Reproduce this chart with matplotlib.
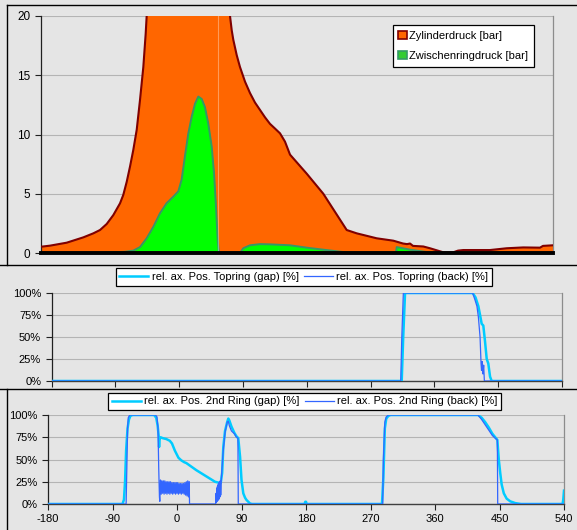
import matplotlib
matplotlib.use("Agg")
import matplotlib.pyplot as plt
from matplotlib.lines import Line2D
from matplotlib.patches import Patch
from matplotlib.ticker import FuncFormatter

plt.rcParams['font.family'] = ['Liberation Sans', 'DejaVu Sans']

# ---------------- data ----------------
# top panel: crank angle [deg] vs pressure [bar]
cyl_x = [-180, -167.3, -143.9, -120.5, -106.4, -97.0, -87.6, -78.3, -68.9, -64.3, -59.5,
         -54.8, -50.2, -45.4, -40.8, -36.1, -32.8, -31.4,
         -26.7, -12.7, 22.5, 43.6, 64.7, 78.75, 85.8, 88.2, 90.4, 95.2, 99.8, 106.9,
         113.9, 120.9, 128.0, 135.0, 142.0, 149.1, 156.1, 163.1, 170.2, 193.6, 217.0,
         249.9, 263.9, 292.1, 315.4, 329.1, 334.7, 338.9, 343.1, 357.6, 367.0, 385.7,
         399.8, 406.4, 413.8, 451.4, 474.9, 498.2, 521.7, 525.9, 540]
cyl_p = [0.53, 0.62, 0.87, 1.32, 1.66, 1.94, 2.45, 3.2, 4.19, 4.9, 6.0,
         7.3, 8.7, 10.4, 12.9, 15.7, 18.5, 20.0,
         26.0, 36.0, 50.0, 45.0, 35.0, 25.0, 20.0, 18.8, 18.0, 16.7, 15.7, 14.46,
         13.5, 12.7, 12.07, 11.45, 10.9, 10.5, 10.1, 9.4, 8.3, 6.7, 5.0,
         1.94, 1.66, 1.24, 1.04, 0.8, 0.75, 0.8, 0.6, 0.55, 0.4, 0.06,
         0.06, 0.2, 0.25, 0.25, 0.4, 0.47, 0.45, 0.6, 0.65]

zw_x = [-180, -97.0, -83.0, -61.9, -50.2, -40.8, -31.4, -22.1, -12.7, -3.4, 6.0, 13.1,
        17.8, 22.5, 27.2, 31.9, 36.6, 41.2, 46.0, 50.6, 55.3, 60.0, 63.3, 66.1, 68.5,
        70.3, 99.8, 104.5, 113.9, 128.0, 142.0, 170.2, 193.6, 217.0, 245.1, 263.9,
        319.2, 320.2, 338.9, 362.4, 376.5, 540]
zw_p = [0, 0, 0.05, 0.1, 0.2, 0.5, 1.24, 2.2, 3.35, 4.2, 4.75, 5.2,
        6.2, 8.2, 10.1, 11.5, 12.6, 13.2, 13.0, 12.3, 10.9, 9.0, 6.75, 3.9, 1.1,
        0.0, 0.0, 0.4, 0.65, 0.75, 0.73, 0.65, 0.45, 0.28, 0.08, 0.0,
        0.0, 0.5, 0.28, 0.08, 0.0, 0.0]

tdc_marker = 68.9

# middle panel: top ring
top_gap_x = [-180, 313.9, 316.0, 318.6, 414, 418, 422, 424.4, 426.7, 429.0, 431.4,
             433.8, 436.0, 438.5, 440.8, 540]
top_gap_y = [0, 0, 50, 100, 100, 95, 85, 75, 65, 63, 45, 25, 20, 5, 0, 0]
top_back_x = [-180, 312.5, 314.0, 316.2, 414, 417.3, 420, 422, 424.4, 425.8, 426.5,
              427.5, 428.5, 429.5, 430.5, 540]
top_back_y = [0, 0, 50, 100, 100, 92, 85, 73, 50, 20, 12, 22, 8, 18, 0, 0]

# bottom panel: 2nd ring
sec_gap_x = [-180, -76, -74, -72.5, -71, -69, -67, -65, -62, -32, -29, -27, -25.5, -25,
             -24.5, -23, -20, -15, -10, -7, -3, 2, 6, 10, 13, 20, 27, 35, 41, 47, 53,
             58, 61, 63, 64.6, 67, 70, 71.6, 73, 76, 80, 83, 85.5, 88, 90, 92.5, 95,
             97, 102, 105, 178, 179, 180, 181, 286, 288, 290, 292, 295, 298, 420, 425,
             430, 435, 440, 445, 447, 449, 451, 453, 456, 460, 465, 472, 480, 538, 539,
             540]
sec_gap_y = [0, 0, 5, 25, 60, 85, 95, 99, 100, 100, 97, 88, 76, 64,
             72, 75, 74, 73, 71, 68, 60, 52, 49, 47, 46, 42, 38, 34, 31, 28, 25,
             24, 23.5, 35, 64, 82, 92, 96, 94, 87, 80, 76, 74, 53, 27, 12, 7,
             4.5, 0.5, 0, 0, 2.5, 2.5, 0, 0, 30, 85, 96, 99, 100, 100, 97,
             92, 86, 79, 74, 72, 50, 35, 22, 12, 6, 3, 1, 0, 0, 5,
             15]

sec_back_x = [-180, -71, -70, -69, -68, -66, -30, -28, -26.5, -25.5, -24.5, -24,
              -23, -22, -21, -20, -19, -18, -17, -16, -15, -14, -13, -12, -11, -10,
              -9, -8, -7, -6, -5, -4, -3, -2, -1, 0, 1, 2, 3, 4, 5, 6, 7, 8, 9, 10,
              11, 12, 13, 14, 15, 16, 17, 17.5,
              54, 54.5, 55, 55.5, 56, 56.5, 57, 57.5, 58, 58.5, 59, 59.5, 60, 60.5,
              61, 62, 64, 67, 70, 71.5, 73, 76, 80, 83, 85, 85.5,
              287, 288, 290, 292, 295, 420, 425, 430, 435, 440, 444, 447, 447.5, 540]
sec_back_y = [0, 0, 40, 85, 97, 100, 100, 98, 85, 40, 8, 3,
              27, 11, 26, 12, 26, 11, 26, 12, 25, 11, 25, 12, 25, 11,
              25, 12, 24, 11, 24, 12, 24, 11, 24, 12, 24, 11, 23, 12, 23, 11, 23, 12, 23, 11,
              24, 10, 25, 9, 26, 8, 25, 0,
              0, 12, 2, 18, 3, 20, 4, 22, 5, 24, 6, 25, 8, 26,
              10, 30, 55, 80, 92, 93, 88, 82, 79, 75, 74, 0,
              0, 50, 92, 98, 100, 100, 95, 89, 83, 77, 74, 72, 0, 0]

x_ticks = [-180, -90, 0, 90, 180, 270, 360, 450, 540]
pct_ticks = [0, 25, 50, 75, 100]
bar_ticks = [0, 5, 10, 15, 20]

# ---------------- style ----------------
W, H = 577, 530
BG = '#e5e5e5'
ORANGE = '#ff6600'
DARKRED = '#800000'
GREEN = '#00ff00'
GREEN_EDGE = '#339966'
CYAN = '#00ccff'
BLUE = '#3366ff'
GRID = '#b4b4b4'

fig = plt.figure(figsize=(W / 100, H / 100), dpi=100, facecolor=BG)


def ax_rect(x0, x1, ytop, ybot):
    return [x0 / W, 1 - ybot / H, (x1 - x0) / W, (ybot - ytop) / H]


def style_axes(ax):
    ax.set_facecolor('none')
    ax.grid(True, axis='y', color=GRID, lw=0.8)
    ax.set_axisbelow(True)
    ax.spines['top'].set_visible(False)
    ax.spines['right'].set_color('#8c8c8c')
    ax.spines['right'].set_linewidth(0.9)
    ax.spines['left'].set_color('#202020')
    ax.spines['left'].set_linewidth(0.9)
    ax.tick_params(axis='both', direction='out', length=4, width=0.8, colors='#202020',
                   labelcolor='black', labelsize=8)


# ---- top panel ----
ax1 = fig.add_axes(ax_rect(41, 553, 16, 253))
style_axes(ax1)
ax1.fill_between(cyl_x, 0, cyl_p, color=ORANGE, lw=0, zorder=2)
ax1.plot(cyl_x, cyl_p, color=DARKRED, lw=1.5, zorder=3, solid_joinstyle='round')
ax1.fill_between(zw_x, 0, zw_p, color=GREEN, lw=0, zorder=4)
ax1.plot(zw_x, zw_p, color=GREEN_EDGE, lw=1.4, zorder=5, solid_joinstyle='round')
ax1.axvline(tdc_marker, color='white', alpha=0.35, lw=0.8, zorder=6)
ax1.set_xlim(-180, 540)
ax1.set_ylim(0, 20)
ax1.set_yticks(bar_ticks)
ax1.tick_params(axis='y', labelsize=8.5)
ax1.set_xticks([])
ax1.spines['bottom'].set_color('black')
ax1.spines['bottom'].set_linewidth(2.8)
ax1.spines['bottom'].set_zorder(7)
leg1 = fig.legend(handles=[Patch(facecolor=ORANGE, edgecolor=DARKRED, lw=1.2, label='Zylinderdruck [bar]'),
                           Patch(facecolor='#33cc33', edgecolor=GREEN_EDGE, lw=1.2, label='Zwischenringdruck [bar]')],
                  loc='center', bbox_to_anchor=(463.3 / W, 1 - 45.9 / H), fontsize=8,
                  frameon=True, fancybox=False, framealpha=1, edgecolor='black',
                  handlelength=0.8, handleheight=0.8, handletextpad=0.2, borderpad=0.5,
                  labelspacing=0.9, borderaxespad=0)
leg1.get_frame().set_linewidth(0.9)

pct_fmt = FuncFormatter(lambda v, p: f"{int(v)}%")

# ---- middle panel ----
ax2 = fig.add_axes(ax_rect(51.6, 562, 293, 381))
style_axes(ax2)
ax2.plot(top_gap_x, top_gap_y, color=CYAN, lw=1.8, zorder=3, label='rel. ax. Pos. Topring (gap) [%]')
ax2.plot(top_back_x, top_back_y, color=BLUE, lw=0.9, zorder=4, label='rel. ax. Pos. Topring (back) [%]')
ax2.set_xlim(-180, 540)
ax2.set_ylim(0, 100)
ax2.set_yticks(pct_ticks)
ax2.yaxis.set_major_formatter(pct_fmt)
ax2.set_xticks(x_ticks)
ax2.set_xticklabels([])
ax2.spines['bottom'].set_color('#404040')
ax2.spines['bottom'].set_linewidth(1.0)
leg2 = fig.legend(handles=ax2.get_lines(), loc='center', ncol=2,
                  bbox_to_anchor=(304 / W, 1 - 277 / H), fontsize=8,
                  frameon=True, fancybox=False, framealpha=1, edgecolor='black',
                  handlelength=2.6, handletextpad=0.3, columnspacing=0.5,
                  borderpad=0.35, borderaxespad=0)
leg2.get_frame().set_linewidth(0.9)

# ---- bottom panel ----
ax3 = fig.add_axes(ax_rect(48, 564, 415, 504))
style_axes(ax3)
ax3.plot(sec_gap_x, sec_gap_y, color=CYAN, lw=1.8, zorder=3, label='rel. ax. Pos. 2nd Ring (gap) [%]')
ax3.plot(sec_back_x, sec_back_y, color=BLUE, lw=0.9, zorder=4, label='rel. ax. Pos. 2nd Ring (back) [%]')
ax3.set_xlim(-180, 540)
ax3.set_ylim(0, 100)
ax3.set_yticks(pct_ticks)
ax3.yaxis.set_major_formatter(pct_fmt)
ax3.set_xticks(x_ticks)
ax3.set_xticklabels([str(t) for t in x_ticks])
ax3.spines['bottom'].set_color('#404040')
ax3.spines['bottom'].set_linewidth(1.0)
leg3 = fig.legend(handles=ax3.get_lines(), loc='center', ncol=2,
                  bbox_to_anchor=(304.5 / W, 1 - 401.5 / H), fontsize=8,
                  frameon=True, fancybox=False, framealpha=1, edgecolor='black',
                  handlelength=2.6, handletextpad=0.3, columnspacing=0.5,
                  borderpad=0.35, borderaxespad=0)
leg3.get_frame().set_linewidth(0.9)

# ---- chart frames ----
def fline(x0, y0, x1, y1, lw=1.0):
    fig.add_artist(Line2D([x0 / W, x1 / W], [1 - y0 / H, 1 - y1 / H],
                          transform=fig.transFigure, color='black', lw=lw))

fline(7, 5, W, 5)
fline(7, 5, 7, 265)
fline(0, 265, W, 265)
fline(0, 389, W, 389)
fline(7, 389, 7, H)

fig.savefig('out.png', dpi=100, facecolor=BG)
